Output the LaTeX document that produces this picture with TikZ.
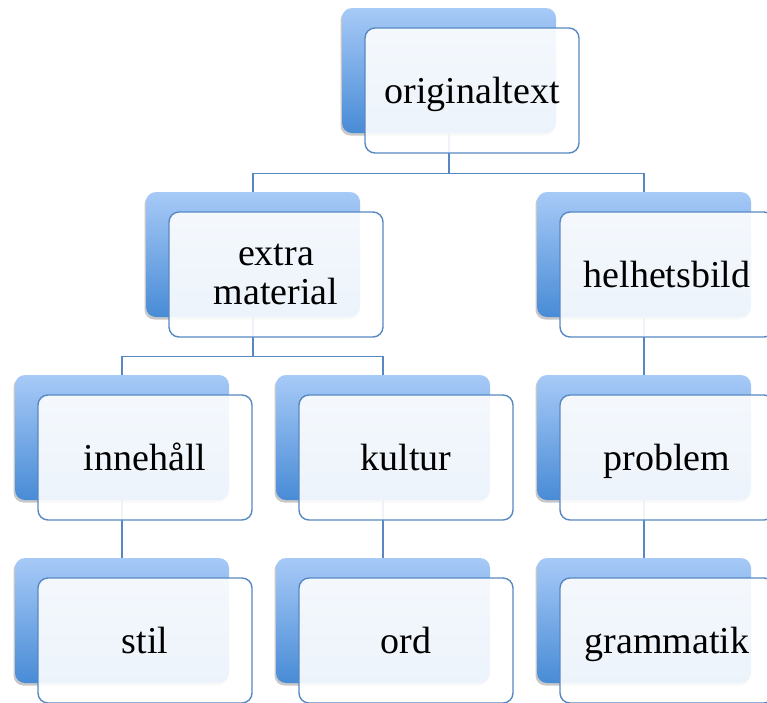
\documentclass[tikz,border=0pt]{standalone}
\usepackage{fontspec}
\setmainfont{Liberation Serif}
\usetikzlibrary{shadows}
\definecolor{topblue}{RGB}{167,202,247}
\definecolor{botblue}{RGB}{72,139,214}
\definecolor{edgeblue}{RGB}{88,136,194}
\tikzset{
 backbox/.style={rectangle, rounded corners=10pt, minimum width=214pt, minimum height=125pt,
   inner sep=0pt, top color=topblue, bottom color=botblue, draw=none,
   drop shadow={shadow xshift=-1.5pt, shadow yshift=-2.5pt, opacity=0.3, fill=black!70}},
 frontbase/.style={rectangle, rounded corners=10pt, minimum width=214pt, minimum height=125pt,
   inner sep=0pt, draw=edgeblue, line width=1.4pt, fill=white, fill opacity=0.9, text opacity=1,
   text=black, font=\fontsize{38}{39}\selectfont, align=center},
 frontbox/.style={frontbase, text height=26pt, text depth=0pt},
 link/.style={draw=edgeblue, line width=1.4pt},
}
\begin{document}
\begin{tikzpicture}[x=1pt,y=-1pt]
\path[use as bounding box, clip] (0,0) rectangle (767,702);
\fill[white] (0,0) rectangle (767,702);
% back boxes
\node[backbox] (orig) at (449,70.5) {};
\node[backbox] (extra) at (253,254.5) {};
\node[backbox] (helh) at (644,254.5) {};
\node[backbox] (inneh) at (122,437.5) {};
\node[backbox] (kult) at (383,437.5) {};
\node[backbox] (prob) at (644,437.5) {};
\node[backbox] (stil) at (122,620.5) {};
\node[backbox] (ord) at (383,620.5) {};
\node[backbox] (gram) at (644,620.5) {};
% connectors
\draw[link] (orig.south) -- ++(0,40) coordinate (j1);
\draw[link] (j1) -| (extra.north);
\draw[link] (j1) -| (helh.north);
\draw[link] (extra.south) -- ++(0,39) coordinate (j2);
\draw[link] (j2) -| (inneh.north);
\draw[link] (j2) -| (kult.north);
\draw[link] (helh.south) -- (prob.north);
\draw[link] (inneh.south) -- (stil.north);
\draw[link] (kult.south) -- (ord.north);
\draw[link] (prob.south) -- (gram.north);
% front boxes
\node[frontbox] (origF) at ([shift={(23,20)}]orig.center) {originaltext};
\node[frontbase] (extraF) at ([shift={(23,20)}]extra.center) {extra\\material};
\node[frontbox] (helhF) at ([shift={(23,20)}]helh.center) {helhetsbild};
\node[frontbox] (innehF) at ([shift={(23,20)}]inneh.center) {innehåll};
\node[frontbox] (kultF) at ([shift={(23,20)}]kult.center) {kultur};
\node[frontbox] (probF) at ([shift={(23,20)}]prob.center) {problem};
\node[frontbox] (stilF) at ([shift={(23,20)}]stil.center) {stil};
\node[frontbox] (ordF) at ([shift={(23,20)}]ord.center) {ord};
\node[frontbox] (gramF) at ([shift={(23,20)}]gram.center) {grammatik};
\end{tikzpicture}
\end{document}
